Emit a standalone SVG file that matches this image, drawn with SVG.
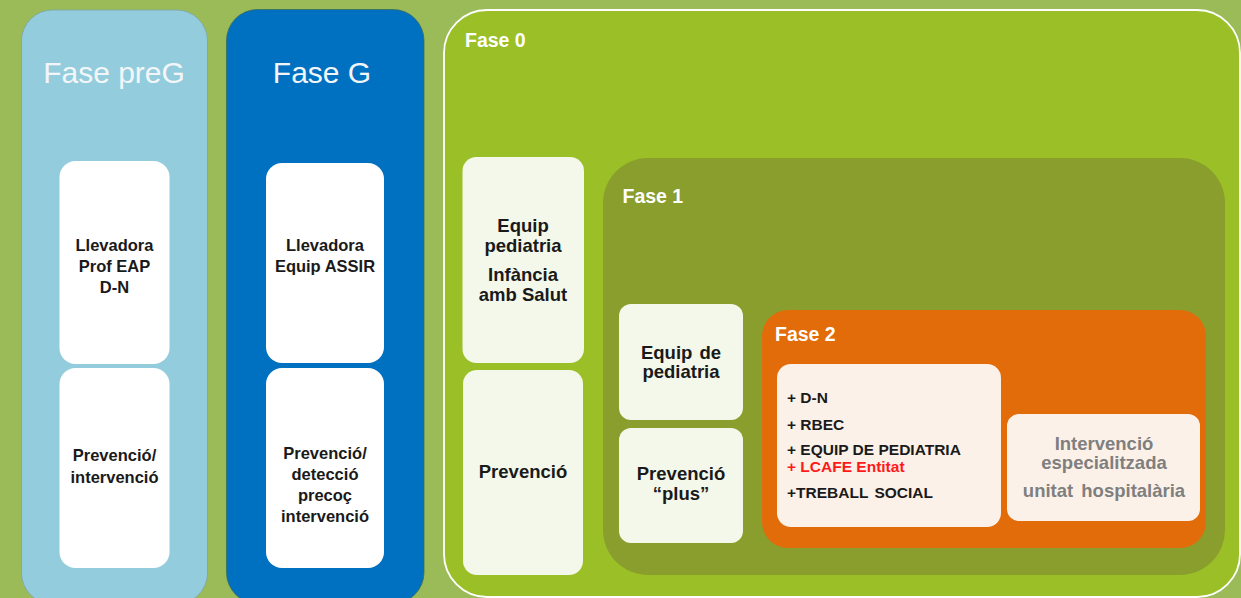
<svg xmlns="http://www.w3.org/2000/svg" width="1241" height="598" viewBox="0 0 1241 598">
  <style>
    .title { font-family: "Liberation Sans", Arial, sans-serif; font-size: 30px; fill: #F2F6F8; }
    .phase { font-family: "Liberation Sans", Arial, sans-serif; font-weight: bold; font-size: 19.5px; fill: #FFFFFF; }
    .lbl { font-family: "Liberation Sans", Arial, sans-serif; font-weight: bold; font-size: 16.5px; fill: #1A1A1A; text-anchor: middle; }
    .lbl18 { font-family: "Liberation Sans", Arial, sans-serif; font-weight: bold; font-size: 18.5px; fill: #1A1A1A; text-anchor: middle; }
    .list { font-family: "Liberation Sans", Arial, sans-serif; font-weight: bold; font-size: 15.5px; fill: #1A1A1A; }
    .red { fill: #FF1A1A; }
    .grey { font-family: "Liberation Sans", Arial, sans-serif; font-weight: bold; font-size: 18.5px; fill: #7F7F7F; text-anchor: middle; }
    .white-box { fill: #FFFFFF; }
    .cream-box { fill: #F4F8EA; }
    .peach-box { fill: #FCF1E8; }
  </style>

  <!-- background -->
  <rect x="0" y="0" width="1241" height="598" fill="#9BBB59"/>

  <!-- Fase preG column -->
  <g id="fase-preg">
    <rect x="21.5" y="10" width="186" height="594" rx="31" fill="#93CDDD" stroke="#7FA3A8" stroke-width="0.8"/>
    <text class="title" x="114" y="83" text-anchor="middle">Fase preG</text>
  </g>
  <g id="preg-equip">
    <rect class="white-box" x="59.5" y="161" width="110" height="203" rx="16"/>
    <text class="lbl" x="114.5" y="251">Llevadora</text>
    <text class="lbl" x="114.5" y="272">Prof EAP</text>
    <text class="lbl" x="114.5" y="293">D-N</text>
  </g>
  <g id="preg-prevencio">
    <rect class="white-box" x="59.5" y="368" width="110" height="200" rx="16"/>
    <text class="lbl" x="114.5" y="461">Prevenció/</text>
    <text class="lbl" x="114.5" y="483">intervenció</text>
  </g>

  <!-- Fase G column -->
  <g id="fase-g">
    <rect x="226.5" y="9.5" width="197.5" height="594" rx="31" fill="#0070C0" stroke="#3A6E5A" stroke-width="0.8"/>
    <text class="title" x="322" y="83" text-anchor="middle">Fase G</text>
  </g>
  <g id="g-equip">
    <rect class="white-box" x="266" y="163" width="118" height="200" rx="16"/>
    <text class="lbl" x="325" y="251">Llevadora</text>
    <text class="lbl" x="325" y="272">Equip ASSIR</text>
  </g>
  <g id="g-prevencio">
    <rect class="white-box" x="266" y="368" width="118" height="200" rx="16"/>
    <text class="lbl" x="325" y="459">Prevenció/</text>
    <text class="lbl" x="325" y="480">detecció</text>
    <text class="lbl" x="325" y="501">precoç</text>
    <text class="lbl" x="325" y="522">intervenció</text>
  </g>

  <!-- Fase 0 -->
  <g id="fase-0">
    <rect x="444" y="10" width="796" height="587" rx="43" fill="#9BBF27" stroke="#FFFFFF" stroke-width="1.8"/>
    <text class="phase" x="465" y="47">Fase 0</text>
  </g>
  <g id="f0-equip">
    <rect class="cream-box" x="462.5" y="157" width="121.5" height="206" rx="14"/>
    <text class="lbl18" x="523" y="232">Equip</text>
    <text class="lbl18" x="523" y="252">pediatria</text>
    <text class="lbl18" x="523" y="281">Infància</text>
    <text class="lbl18" x="523" y="301">amb Salut</text>
  </g>
  <g id="f0-prevencio">
    <rect class="cream-box" x="463" y="370" width="120" height="205" rx="14"/>
    <text class="lbl18" x="523" y="478">Prevenció</text>
  </g>

  <!-- Fase 1 -->
  <g id="fase-1">
    <rect x="603" y="158" width="622" height="417" rx="45" fill="#8A9E2E"/>
    <text class="phase" x="622.5" y="203">Fase 1</text>
  </g>
  <g id="f1-equip">
    <rect class="cream-box" x="619" y="304" width="124" height="116" rx="12"/>
    <text class="lbl18" x="681" y="359" word-spacing="2">Equip de</text>
    <text class="lbl18" x="681" y="378">pediatria</text>
  </g>
  <g id="f1-prevencio">
    <rect class="cream-box" x="619" y="428" width="124" height="115" rx="12"/>
    <text class="lbl18" x="681" y="480">Prevenció</text>
    <text class="lbl18" x="681" y="500">“plus”</text>
  </g>

  <!-- Fase 2 -->
  <g id="fase-2">
    <rect x="762" y="310" width="444" height="238" rx="26" fill="#E36C0A"/>
    <text class="phase" x="775" y="341">Fase 2</text>
  </g>
  <g id="f2-equip">
    <rect class="peach-box" x="777" y="364" width="224" height="163" rx="14"/>
    <text class="list" x="787" y="403">+ D-N</text>
    <text class="list" x="787" y="430">+ RBEC</text>
    <text class="list" x="787" y="455">+ EQUIP DE PEDIATRIA</text>
    <text class="list red" x="787" y="472">+ LCAFE Entitat</text>
    <text class="list" x="787" y="498" word-spacing="2">+TREBALL SOCIAL</text>
  </g>
  <g id="f2-hospital">
    <rect class="peach-box" x="1007" y="414" width="193" height="107" rx="12"/>
    <text class="grey" x="1104" y="450">Intervenció</text>
    <text class="grey" x="1104" y="469">especialitzada</text>
    <text class="grey" x="1104" y="497" word-spacing="3">unitat hospitalària</text>
  </g>
</svg>
